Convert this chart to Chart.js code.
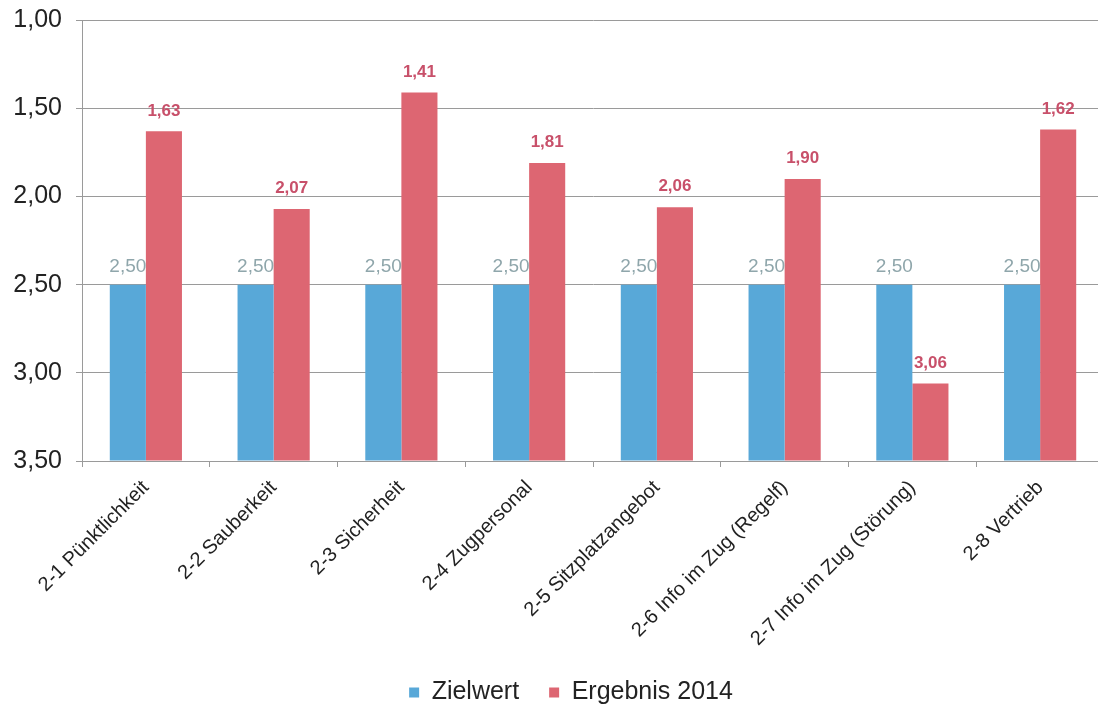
<!DOCTYPE html>
<html>
<head>
<meta charset="utf-8">
<script src="https://cdn.jsdelivr.net/npm/chart.js@4/dist/chart.umd.min.js"></script>
<style>
  html, body { margin: 0; padding: 0; background: #fff; overflow: hidden; }
  #box { width: 1142px; height: 715px; }
</style>
</head>
<body>
<div id="box"><canvas id="chart"></canvas></div>
<script>
const kategorien = [
  "2-1 Pünktlichkeit",
  "2-2 Sauberkeit",
  "2-3 Sicherheit",
  "2-4 Zugpersonal",
  "2-5 Sitzplatzangebot",
  "2-6 Info im Zug (Regelf)",
  "2-7 Info im Zug (Störung)",
  "2-8 Vertrieb"
];
const zielwert = [2.50, 2.50, 2.50, 2.50, 2.50, 2.50, 2.50, 2.50];
const ergebnis2014 = [1.63, 2.07, 1.41, 1.81, 2.06, 1.90, 3.06, 1.62];
const yTicks = [1.00, 1.50, 2.00, 2.50, 3.00, 3.50];

const fmt = v => v.toFixed(2).replace(".", ",");
const schrift = "Arial, 'Liberation Sans', sans-serif";

// Werte über den Balken
const labelPlugin = {
  id: "werte",
  afterDatasetsDraw(chart) {
    const ctx = chart.ctx;
    const styles = [
      { font: "19px " + schrift, color: "#8fa6ab", off: 8 },
      { font: "bold 17px " + schrift, color: "#c8506a", off: 12 }
    ];
    chart.data.datasets.forEach((ds, i) => {
      const meta = chart.getDatasetMeta(i);
      const s = styles[i];
      ctx.save();
      ctx.font = s.font;
      ctx.fillStyle = s.color;
      ctx.textAlign = "center";
      ctx.textBaseline = "bottom";
      meta.data.forEach((bar, j) => {
        ctx.fillText(fmt(ds.data[j]), bar.x, bar.y - s.off);
      });
      ctx.restore();
    });
  }
};

const ctx = document.getElementById("chart").getContext("2d");
new Chart(ctx, {
  type: "bar",
  data: {
    labels: kategorien,
    datasets: [
      { label: "Zielwert", data: zielwert, backgroundColor: "#58a8d8", base: 3.5 },
      { label: "Ergebnis 2014", data: ergebnis2014, backgroundColor: "#dd6672", base: 3.5 }
    ]
  },
  options: {
    responsive: true,
    maintainAspectRatio: false,
    animation: false,
    layout: { padding: 0 },
    datasets: { bar: { categoryPercentage: 0.565, barPercentage: 1.0 } },
    scales: {
      x: {
        afterFit: s => { s.height = 189; },
        grid: { offset: true, drawOnChartArea: false, drawTicks: true, tickLength: 6, color: "#9a9a9a" },
        border: { color: "#9a9a9a" },
        ticks: {
          maxRotation: 45, minRotation: 45, autoSkip: false,
          color: "#222", padding: 9,
          font: { family: schrift, size: 20 }
        }
      },
      y: {
        reverse: true,
        min: 1, max: 3.5,
        afterFit: s => { s.width = 82; },
        afterBuildTicks: s => { s.ticks = yTicks.map(v => ({ value: v })); },
        grid: { color: "#9a9a9a", tickLength: 6 },
        border: { color: "#9a9a9a" },
        ticks: {
          color: "#222", padding: 14,
          // kleine lineHeight, damit oben nicht zu viel Rand entsteht
          font: { family: schrift, size: 25, lineHeight: 0.5 },
          callback: v => fmt(v)
        }
      },
      // leerer Rand rechts (ausserhalb des Fensters), damit die Legende mittig wie im Original sitzt
      rand: {
        position: "right",
        afterFit: s => { s.width = 38; },
        grid: { display: false },
        border: { display: false },
        ticks: { display: false }
      }
    },
    plugins: {
      legend: {
        position: "bottom",
        labels: {
          boxWidth: 10, boxHeight: 10, padding: 30, color: "#222",
          font: { family: schrift, size: 25 }
        }
      },
      tooltip: { enabled: false }
    }
  },
  plugins: [labelPlugin]
});
</script>
</body>
</html>
